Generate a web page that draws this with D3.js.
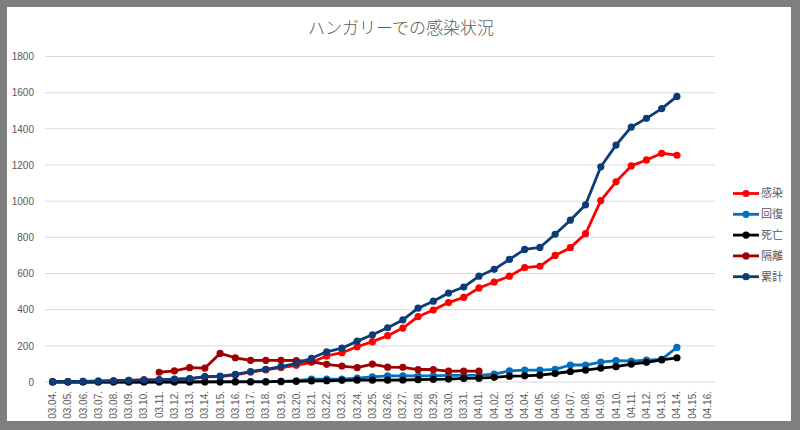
<!DOCTYPE html>
<html><head><meta charset="utf-8">
<script src="https://cdn.jsdelivr.net/npm/d3@7"></script>
<style>
html,body{margin:0;padding:0;background:#7f7f7f;}
svg{display:block;}
</style></head>
<body>
<svg id="chart" width="800" height="430"></svg>
<script>
const title = "ハンガリーでの感染状況";
const dates = ["03.04.","03.05.","03.06.","03.07.","03.08.","03.09.","03.10.","03.11.","03.12.","03.13.","03.14.","03.15.","03.16.","03.17.","03.18.","03.19.","03.20.","03.21.","03.22.","03.23.","03.24.","03.25.","03.26.","03.27.","03.28.","03.29.","03.30.","03.31.","04.01.","04.02.","04.03.","04.04.","04.05.","04.06.","04.07.","04.08.","04.09.","04.10.","04.11.","04.12.","04.13.","04.14.","04.15.","04.16."];
const yTicks = [0,200,400,600,800,1000,1200,1400,1600,1800];
const seriesNames = ["感染","回復","死亡","隔離","累計"];
const seriesColors = ["#ff0000","#0070c0","#000000","#a00000","#0c3c78"];
const N = null;
const infected  = [2,2,4,5,7,9,12,12,15,18,28,30,39,55,67,80,92,109,144,162,195,223,256,298,361,398,439,468,520,553,585,633,640,700,743,820,1003,1107,1195,1228,1265,1254,N,N];
const recovered = [0,0,0,0,0,0,0,1,1,1,1,1,2,2,2,2,7,16,16,16,21,28,34,34,34,34,37,37,37,44,61,66,66,70,94,94,110,118,116,121,125,191,N,N];
const deaths    = [0,0,0,0,0,0,0,0,0,0,1,1,1,1,1,3,4,6,7,9,10,10,10,11,13,15,16,20,21,26,32,34,38,47,58,66,77,85,99,109,122,134,N,N];
const isolated  = [N,N,N,N,N,N,N,54,62,79,77,158,134,120,120,120,119,112,98,88,80,99,82,81,69,69,60,60,60,N,N,N,N,N,N,N,N,N,N,N,N,N,N,N];
const total     = [2,2,4,5,7,9,12,13,16,19,30,32,42,58,70,85,103,131,167,187,226,261,300,343,408,447,492,525,585,623,678,733,744,817,895,980,1190,1310,1410,1458,1512,1579,N,N];

const allSeries = [infected, recovered, deaths, isolated, total];

const svg = d3.select("#chart");
svg.append("rect").attr("x",7).attr("y",7).attr("width",784).attr("height",414).attr("fill","#ffffff");

const m = {left:45, right:715, top:56.5, bottom:382};
const x = d3.scaleBand().domain(dates).range([m.left, m.right]);
const y = d3.scaleLinear().domain([0,1800]).range([m.bottom, m.top]);

// grid
svg.append("g").selectAll("line").data(yTicks).join("line")
  .attr("x1",m.left).attr("x2",m.right)
  .attr("y1",d=>y(d)).attr("y2",d=>y(d))
  .attr("stroke","#d9d9d9").attr("stroke-width",1);

// y axis labels
const yAxis = d3.axisLeft(y).tickValues(yTicks).tickFormat(d3.format("d")).tickSize(0).tickPadding(0);
const gy = svg.append("g").attr("transform","translate(34,0)").call(yAxis);
gy.select(".domain").remove();
gy.selectAll("text").attr("font-family","Liberation Sans, Arial, sans-serif").attr("font-size","10px").attr("fill","#595959");

// x axis labels
const xAxis = d3.axisBottom(x).tickSize(0).tickPadding(0);
const gx = svg.append("g").attr("transform","translate(0,"+m.bottom+")").call(xAxis);
gx.select(".domain").remove();
gx.selectAll("text")
  .attr("font-family","Liberation Sans, Arial, sans-serif").attr("font-size","10px").attr("fill","#595959")
  .attr("text-anchor","end").attr("dy","0.35em").attr("dx",0).attr("y",0)
  .attr("transform","translate(0,9) rotate(-90)");

// series
const cx = i => x(dates[i]) + x.bandwidth()/2;
const line = d3.line().defined(d=>d.v!=null).x(d=>cx(d.i)).y(d=>y(d.v));
allSeries.forEach((s,k)=>{
  const pts = s.map((v,i)=>({i,v}));
  const g = svg.append("g");
  g.append("path").datum(pts).attr("d",line).attr("fill","none")
   .attr("stroke",seriesColors[k]).attr("stroke-width",2.8).attr("stroke-linejoin","round");
  g.selectAll("circle").data(pts.filter(d=>d.v!=null)).join("circle")
   .attr("cx",d=>cx(d.i)).attr("cy",d=>y(d.v)).attr("r",3.6).attr("fill",seriesColors[k]);
});

// title
svg.append("text").attr("x",401).attr("y",34).attr("text-anchor","middle")
  .attr("font-family","Noto Sans CJK JP, sans-serif").attr("font-size","17px").attr("font-weight","300")
  .attr("fill","#595959").text(title);

// legend
const lg = svg.append("g");
seriesNames.forEach((n,k)=>{
  const yy = 193.5 + k*20.8;
  lg.append("line").attr("x1",733).attr("x2",759).attr("y1",yy).attr("y2",yy)
    .attr("stroke",seriesColors[k]).attr("stroke-width",2.8);
  lg.append("circle").attr("cx",746).attr("cy",yy).attr("r",3.6).attr("fill",seriesColors[k]);
  lg.append("text").attr("x",761).attr("y",yy).attr("dy","0.35em")
    .attr("font-family","Noto Sans CJK JP, sans-serif").attr("font-size","11px")
    .attr("fill","#595959").text(n);
});
</script>
</body></html>
